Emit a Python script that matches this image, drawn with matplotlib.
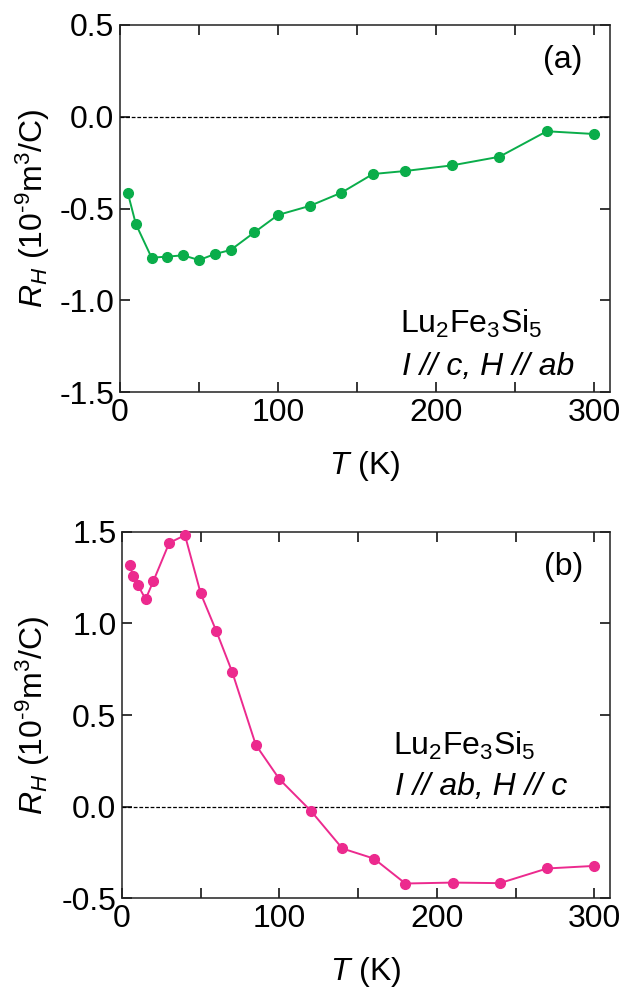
import numpy as np
import matplotlib.pyplot as plt
from matplotlib.ticker import MultipleLocator

plt.rcParams['font.family'] = ['Liberation Sans', 'DejaVu Sans']
plt.rcParams['mathtext.fontset'] = 'custom'
plt.rcParams['mathtext.rm'] = 'Liberation Sans'
plt.rcParams['mathtext.it'] = 'Liberation Sans:italic'
plt.rcParams['axes.unicode_minus'] = False

# (a) I // c, H // ab
T_a = [5, 10, 20, 30, 40, 50, 60, 70, 85, 100, 120, 140, 160, 180, 210, 240, 270, 300]
RH_a = [-0.417, -0.584, -0.768, -0.762, -0.755, -0.781, -0.748, -0.726, -0.630,
        -0.535, -0.486, -0.414, -0.312, -0.296, -0.265, -0.218, -0.079, -0.094]

# (b) I // ab, H // c
T_b = [5, 7, 10, 15, 20, 30, 40, 50, 60, 70, 85, 100, 120, 140, 160, 180, 210, 240, 270, 300]
RH_b = [1.319, 1.256, 1.210, 1.132, 1.232, 1.439, 1.481, 1.163, 0.956, 0.735, 0.337,
        0.150, -0.023, -0.228, -0.283, -0.419, -0.414, -0.417, -0.337, -0.323]

green = '#0aad4a'
pink = '#ec2a8e'
fs = 23

fig = plt.figure(figsize=(6.24, 9.92), dpi=100)
ax_a = fig.add_axes([0.1923, 0.6048, 0.9776 - 0.1923, 0.9748 - 0.6048])
ax_b = fig.add_axes([0.1955, 0.0944, 0.9776 - 0.1955, 0.464 - 0.0944])


def style(ax, ylim, yticks, ylab_x):
    ax.set_xlim(0, 310)
    ax.set_ylim(*ylim)
    ax.set_yticks(yticks)
    ax.set_yticklabels(['%.1f' % v for v in yticks])
    ax.xaxis.set_major_locator(MultipleLocator(100))
    ax.xaxis.set_minor_locator(MultipleLocator(50))
    ax.tick_params(which='both', direction='in', top=True, right=True,
                   length=7, width=1.1, labelsize=fs, pad=4)
    for s in ax.spines.values():
        s.set_linewidth(1.1)
        s.set_color('#222222')
    ax.axhline(0, color='black', lw=0.9, ls=(0, (3, 1.5)), zorder=1)
    ax.set_xlabel('$T$ (K)', fontsize=fs)
    ax.set_ylabel('$R_H$ (10$^{\\text{-9}}$m$^{\\mathrm{3}}$/C)', fontsize=fs)
    ax.xaxis.set_label_coords(0.5, -0.155)
    ax.yaxis.set_label_coords(ylab_x, 0.5)


style(ax_a, (-1.5, 0.5), [-1.5, -1.0, -0.5, 0.0, 0.5], -0.139)
ax_a.plot(T_a, RH_a, '-o', color=green, lw=1.4, ms=7, zorder=3)
ax_a.text(0.904, 0.905, '(a)', transform=ax_a.transAxes, fontsize=fs,
          ha='center', va='center')
ax_a.text(0.571, 0.161, 'Lu$_\\mathrm{2}$Fe$_\\mathrm{3}$Si$_\\mathrm{5}$',
          transform=ax_a.transAxes, fontsize=fs, ha='left', va='baseline')
ax_a.text(0.575, 0.046, 'I // c, H // ab', transform=ax_a.transAxes,
          fontsize=fs, style='italic', ha='left', va='baseline')

style(ax_b, (-0.5, 1.5), [-0.5, 0.0, 0.5, 1.0, 1.5], -0.143)
ax_b.plot(T_b, RH_b, '-o', color=pink, lw=1.4, ms=7, zorder=3, clip_on=False)
ax_b.text(0.904, 0.904, '(b)', transform=ax_b.transAxes, fontsize=fs,
          ha='center', va='center')
ax_b.text(0.555, 0.391, 'Lu$_\\mathrm{2}$Fe$_\\mathrm{3}$Si$_\\mathrm{5}$',
          transform=ax_b.transAxes, fontsize=fs, ha='left', va='baseline')
ax_b.text(0.559, 0.282, 'I // ab, H // c', transform=ax_b.transAxes,
          fontsize=fs, style='italic', ha='left', va='baseline')

fig.savefig('out.png', dpi=100)
